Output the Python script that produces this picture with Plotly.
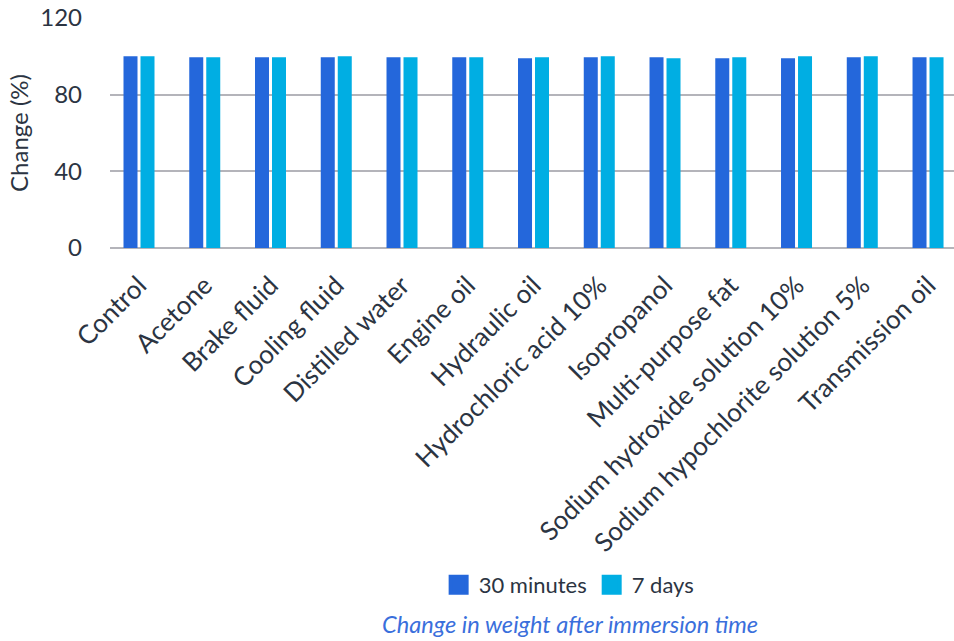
import plotly.graph_objects as go

categories = ["Control", "Acetone", "Brake fluid", "Cooling fluid", "Distilled water",
              "Engine oil", "Hydraulic oil", "Hydrochloric acid 10%", "Isopropanol",
              "Multi-purpose fat", "Sodium hydroxide solution 10%",
              "Sodium hypochlorite solution 5%", "Transmission oil"]
min30 = [100, 99.5, 99.5, 99.5, 99.5, 99.5, 99, 99.5, 99.5, 99, 99, 99.5, 99.5]
days7 = [100, 99.5, 99.5, 100, 99.5, 99.5, 99.5, 100, 99, 99.5, 100, 100, 99.5]
series_names = ["30 minutes", "7 days"]
colors = ["#2467DB", "#00AEE3"]
yticks = [0, 40, 80, 120]

txt = "#2B3442"
fig = go.Figure()
for name, vals, c in zip(series_names, [min30, days7], colors):
    fig.add_trace(go.Bar(x=categories, y=vals, name=name, marker_color=c,
                         marker_line_width=0, showlegend=False))
for name, c in zip(series_names, colors):
    fig.add_trace(go.Scatter(x=[None], y=[None], mode="markers", name=name,
                             marker=dict(symbol="square", size=16, color=c,
                                         line=dict(color=c, width=4))))

fig.update_layout(
    width=954, height=641,
    margin=dict(l=110, r=0, t=18, b=393),
    plot_bgcolor="white", paper_bgcolor="white",
    font=dict(family="Lato", size=24, color=txt),
    barmode="group", bargap=0.483, bargroupgap=0.176,
    xaxis=dict(type="category", tickangle=-45, range=[-0.441, 12.395],
               showgrid=False, showline=False, ticks="",
               ticklabelstandoff=16,
               tickfont=dict(size=26, color=txt)),
    yaxis=dict(range=[0, 120], tickvals=yticks, showgrid=True,
               gridcolor="#B4B4BA", gridwidth=2, zeroline=True,
               zerolinecolor="#B4B4BA", zerolinewidth=2,
               ticks="", ticklen=0, tickfont=dict(size=24, color=txt),
               ticklabelstandoff=27,
               title=dict(text="Change (%)", font=dict(size=24, color=txt), standoff=4)),
    legend=dict(orientation="h", x=0.544, xanchor="center", y=-1.465, yanchor="middle",
                font=dict(size=22, color=txt), itemsizing="trace"),
    annotations=[dict(text="<i>Change in weight after immersion time</i>",
                      xref="paper", yref="paper", x=0.545, y=-1.635, xanchor="center",
                      yanchor="middle", showarrow=False,
                      font=dict(size=23.6, color="#3A6FDC"))],
)
fig.write_html("out.html")
